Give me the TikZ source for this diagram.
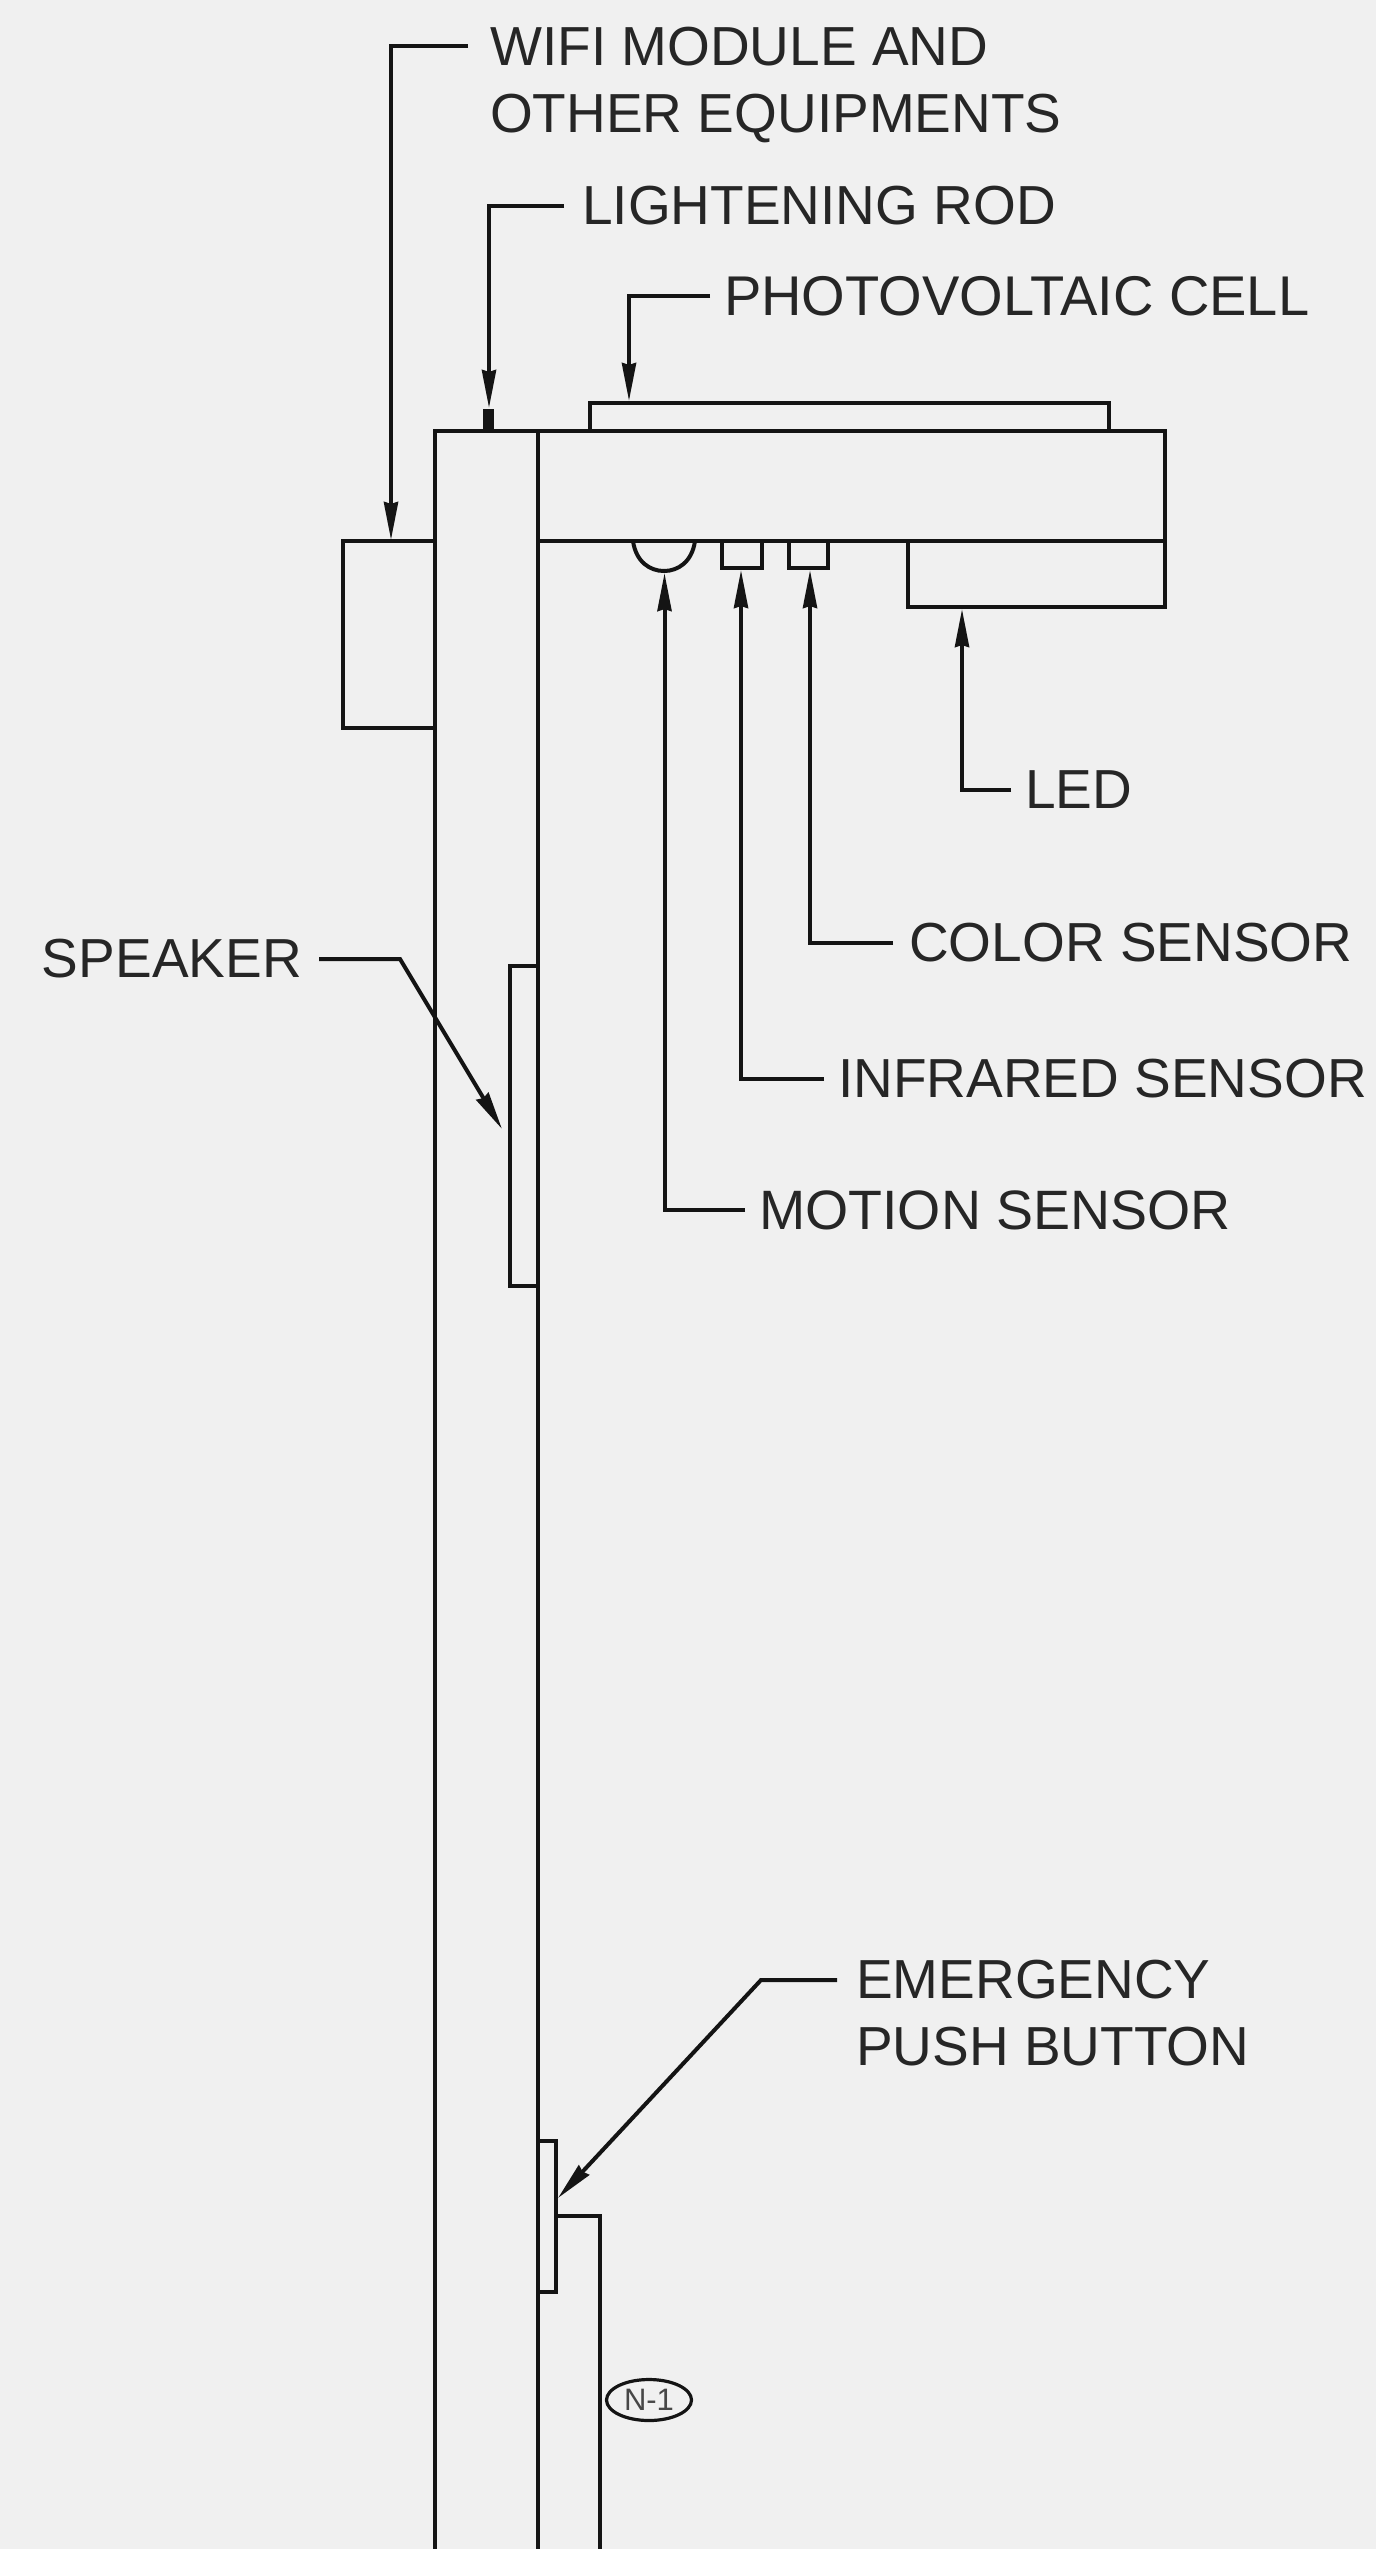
\documentclass[tikz,border=0pt]{standalone}
\usepackage{fontspec}
\setmainfont{Liberation Sans}
\usetikzlibrary{arrows.meta,shapes.geometric}
\definecolor{paper}{HTML}{F0F0F0}
\definecolor{ink}{HTML}{141414}
\definecolor{textink}{HTML}{262626}
\tikzset{
    part/.style={draw=ink,line width=4pt,line join=miter},
    leader/.style={draw=ink,line width=4pt,->,>={Stealth[length=38pt,width=14pt,inset=2pt]}},
    lbl/.style={anchor=west,inner ysep=0pt,inner xsep=14pt,text=textink,align=left,font=\fontsize{55}{67}\selectfont}
}
\begin{document}
\begin{tikzpicture}[x=1pt,y=-1pt]
    \fill[paper] (0,0) rectangle (1376,2549);
    \useasboundingbox (0,0) rectangle (1376,2549);
    % pole and arm
    \draw[part] (435,2549) -- (435,431) -- (1165,431) -- (1165,541) -- (538,541);
    \draw[part] (538,2549) -- (538,431);
    \draw[part] (590,431) -- (590,403) -- (1109,403) -- (1109,431);
    \fill[ink] (483,409) rectangle (494,431);
    \draw[part] (435,541) -- (343,541) -- (343,728) -- (435,728);
    % sensors
    \draw[part] (633,541) .. controls (636,562) and (650,571) .. (664,571) .. controls (678,571) and (692,562) .. (695,541);
    \draw[part] (722,541) -- (722,568) -- (762,568) -- (762,541);
    \draw[part] (789,541) -- (789,568) -- (828,568) -- (828,541);
    \draw[part] (908,541) -- (908,607) -- (1165,607) -- (1165,541);
    % speaker and button
    \draw[part] (538,966) -- (510,966) -- (510,1286) -- (538,1286);
    \draw[part] (538,2141) -- (556,2141) -- (556,2292) -- (538,2292);
    \draw[part] (556,2216) -- (600,2216) -- (600,2549);
    % tips
    \coordinate (wifitip) at (391,540);
    \coordinate (rodtip) at (489,408);
    \coordinate (pvtip) at (629,401);
    \coordinate (ledtip) at (962,609);
    \coordinate (colortip) at (810,570);
    \coordinate (irtip) at (741,570);
    \coordinate (motiontip) at (664.5,573);
    \coordinate (speakertip) at (502,1129);
    \coordinate (buttontip) at (558,2198);
    % labels
    \coordinate (wifistart) at (468,46);
    \node[lbl,inner xsep=0pt] (wifi) at (490,85) {WIFI MODULE AND\\OTHER EQUIPMENTS};
    \node[lbl,inner xsep=18pt] (rod) at (564,206) {LIGHTENING ROD};
    \node[lbl,font=\fontsize{56}{67}\selectfont] (pv) at (710,296) {PHOTOVOLTAIC CELL};
    \node[lbl] (led) at (1011,790) {LED};
    \node[lbl,inner xsep=16pt] (color) at (893,943) {COLOR SENSOR};
    \node[lbl] (ir) at (824,1079) {INFRARED SENSOR};
    \node[lbl,font=\fontsize{55.5}{67}\selectfont] (motion) at (745,1210) {MOTION SENSOR};
    \node[lbl,anchor=east,inner xsep=17pt] (speaker) at (319,959) {SPEAKER};
    \coordinate (buttonstart) at (837,1980);
    \node[lbl,inner xsep=0pt] (button) at (856,2013) {EMERGENCY\\PUSH BUTTON};
    % leaders
    \draw[leader] (wifistart) -| (wifitip);
    \draw[leader] (rod.west) -| (rodtip);
    \draw[leader] (pv.west) -| (pvtip);
    \draw[leader] (led.west) -| (ledtip);
    \draw[leader] (color.west) -| (colortip);
    \draw[leader] (ir.west) -| (irtip);
    \draw[leader] (motion.west) -| (motiontip);
    \draw[leader] (speaker.east) -- (400,959) -- (speakertip);
    \draw[leader] (buttonstart) -- (761,1980) -- (buttontip);
    % note tag
    \node[draw=ink,line width=3.2pt,ellipse,minimum width=85pt,minimum height=41pt,inner sep=0pt,text=textink!85,font=\fontsize{31}{31}\selectfont] (note) at (649,2400) {N-1};
\end{tikzpicture}
\end{document}
